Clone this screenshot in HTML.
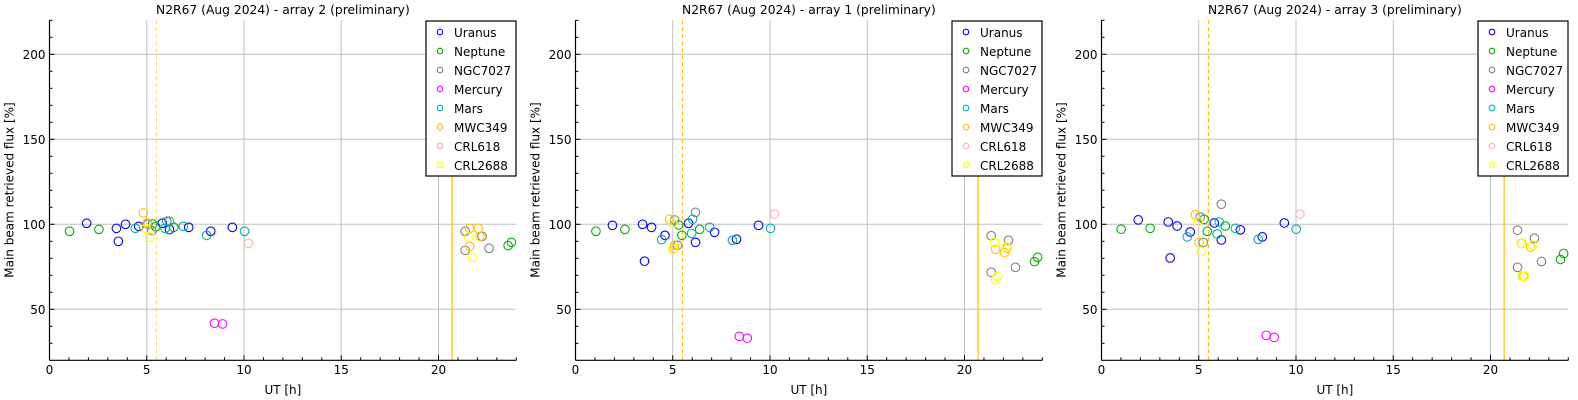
<!DOCTYPE html>
<html><head><meta charset="utf-8"><style>
html,body{margin:0;padding:0;background:#fff;}
svg{display:block;font-family:"DejaVu Sans","Liberation Sans",sans-serif;}
</style></head><body>
<svg id="s" width="1578" height="400" viewBox="0 0 1578 400" xmlns="http://www.w3.org/2000/svg"></svg>
<script>
const C={U:'#0000ff',N:'#00b000',G:'#808080',M:'#ff00ff',A:'#00b0b0',W:'#ffc000',P:'#ffb0b0',Y:'#ffff00'};
const names=[['U','Uranus'],['N','Neptune'],['G','NGC7027'],['M','Mercury'],['A','Mars'],['W','MWC349'],['P','CRL618'],['Y','CRL2688']];
const panels=[
{x0:49.5,t:'N2R67 (Aug 2024) - array 2 (preliminary)',dashOp:0.55,d:{
U:[[1.91,100.6],[3.44,97.6],[3.54,90],[3.91,100],[4.59,98.8],[5.8,100.6],[6.17,96.9],[7.16,98.2],[8.29,95.9],[9.4,98.2]],
N:[[1.03,95.9],[2.54,97],[5.3,100.2],[5.46,98.6],[6.39,98.2],[23.58,87.5],[23.75,89.4]],
G:[[5.06,100.2],[5.27,96.3],[6.17,101.8],[21.37,95.9],[21.37,84.7],[22.24,92.9],[22.6,85.9]],
M:[[8.48,41.8],[8.9,41.4]],
A:[[4.41,97.6],[5.94,97.6],[6.03,101.8],[6.88,98.8],[8.08,93.5],[10.03,95.9]],
W:[[4.83,106.7],[5.02,100.8],[21.6,97.6],[22.05,97.6],[21.6,87],[22.14,92.9]],
P:[[10.23,88.8]],
Y:[[4.97,97.6],[5.16,92.4],[21.55,92.4],[21.76,80.6]]}},
{x0:575.5,t:'N2R67 (Aug 2024) - array 1 (preliminary)',dashOp:1,d:{
U:[[1.9,99.4],[3.45,100],[3.55,78.3],[3.91,98.2],[4.6,93.5],[5.81,100.6],[6.17,89.4],[7.15,95.3],[8.28,91.2],[9.41,99.4]],
N:[[1.05,95.9],[2.54,97],[5.31,99.6],[5.47,93.5],[6.38,97],[23.6,78],[23.76,80.6]],
G:[[5.1,102.5],[5.25,87.7],[6.17,107],[21.37,93.3],[21.37,71.8],[22.26,90.6],[22.62,74.7]],
M:[[8.42,34.1],[8.83,33]],
A:[[4.43,91],[5.97,94.7],[6.02,103],[6.9,98.2],[8.07,90.6],[10.03,97.6]],
W:[[4.84,103],[5.06,86],[5.1,87.7],[21.6,85.3],[22.06,83.3],[22.18,86]],
P:[[10.23,106]],
Y:[[5.0,100.6],[5.0,85.3],[21.55,89.4],[21.7,69.2],[21.6,67.5],[22.15,86.6]]}},
{x0:1101.5,t:'N2R67 (Aug 2024) - array 3 (preliminary)',dashOp:1,d:{
U:[[1.89,102.6],[3.43,101.4],[3.53,80.2],[3.89,99],[4.56,95.5],[5.8,100.8],[6.16,90.8],[7.14,96.7],[8.27,92.6],[9.4,100.8]],
N:[[1.01,97.1],[2.5,97.6],[5.28,102.9],[5.44,95.9],[6.36,99],[23.6,79.3],[23.76,82.8]],
G:[[5.08,104.3],[5.23,89.4],[6.16,111.8],[21.39,96.5],[21.39,74.7],[22.26,91.8],[22.62,78.1]],
M:[[8.47,34.7],[8.88,33.5]],
A:[[4.41,92.6],[5.95,94.3],[6.05,101.4],[6.88,97.6],[8.06,91.2],[10.01,97.1]],
W:[[4.82,105.7],[5.02,89.4],[21.6,88.8],[22.06,86.6],[21.7,69.6]],
P:[[10.2,106]],
Y:[[4.98,101.6],[5.13,84],[21.57,88.8],[22.17,87.8],[21.75,69.6],[21.6,69.6]]}}
];
const W=466.8, S=W/24;
const Y=v=>224.3-(v-100)*1.7;
let h='';
for(const p of panels){
  const X=t=>p.x0+t*S, x1=p.x0+W, yb=360.3, yt=20.3;
  const cx=p.x0+W/2;
  h+=`<text x="${cx}" y="14" font-size="12.3" text-anchor="middle" fill="#000">${p.t}</text>`;
  for(const t of [5,10,15,20]) h+=`<line x1="${X(t)}" y1="${yt}" x2="${X(t)}" y2="${yb}" stroke="#c0c0c0" stroke-width="1"/>`;
  for(const v of [50,100,150,200]) h+=`<line x1="${p.x0}" y1="${Y(v)}" x2="${x1}" y2="${Y(v)}" stroke="#c0c0c0" stroke-width="1"/>`;
  h+=`<line x1="${X(5.5)}" y1="${yt}" x2="${X(5.5)}" y2="${yb}" stroke="#ffc000" stroke-width="1.2" stroke-dasharray="4,3" opacity="${p.dashOp}"/>`;
  h+=`<line x1="${X(20.7)}" y1="${yt}" x2="${X(20.7)}" y2="${yb}" stroke="#ffc000" stroke-width="1.2"/>`;
  h+=`<line x1="${p.x0}" y1="${yt}" x2="${p.x0}" y2="${yb}" stroke="#000" stroke-width="1.2"/>`;
  h+=`<line x1="${p.x0}" y1="${yb}" x2="${x1}" y2="${yb}" stroke="#000" stroke-width="1.2"/>`;
  for(let t=0;t<=24;t++){const L=t%5==0?5:3;h+=`<line x1="${X(t)}" y1="${yb}" x2="${X(t)}" y2="${yb-L}" stroke="#000"/>`;}
  for(let v=30;v<=220;v+=10){const L=v%50==0?5:3;h+=`<line x1="${p.x0}" y1="${Y(v)}" x2="${p.x0+L}" y2="${Y(v)}" stroke="#000"/>`;}
  for(const t of [0,5,10,15,20]) h+=`<text x="${X(t)}" y="374" font-size="12" text-anchor="middle">${t}</text>`;
  for(const v of [50,100,150,200]) h+=`<text x="${p.x0-4}" y="${Y(v)+4.5}" font-size="12" text-anchor="end">${v}</text>`;
  h+=`<text x="${cx}" y="394" font-size="12" text-anchor="middle">UT [h]</text>`;
  h+=`<text transform="translate(${p.x0-36},190) rotate(-90)" font-size="12" text-anchor="middle">Main beam retrieved flux [%]</text>`;
  for(const k in p.d) for(const [t,v] of p.d[k]) h+=`<circle cx="${X(t)}" cy="${Y(v)}" r="4.3" fill="none" stroke="${C[k]}" stroke-width="1.1"/>`;
  const lx=p.x0+376.5;
  h+=`<rect x="${lx}" y="21" width="90" height="155" fill="#fff" stroke="#000" stroke-width="1.2"/>`;
  names.forEach(([k,n],i)=>{const yy=32+i*19;
    h+=`<circle cx="${lx+14}" cy="${yy}" r="2.8" fill="none" stroke="${C[k]}" stroke-width="1.1"/>`;
    h+=`<text x="${lx+28}" y="${yy+5}" font-size="12">${n}</text>`;});
}
document.getElementById('s').innerHTML=h;
</script>
</body></html>
